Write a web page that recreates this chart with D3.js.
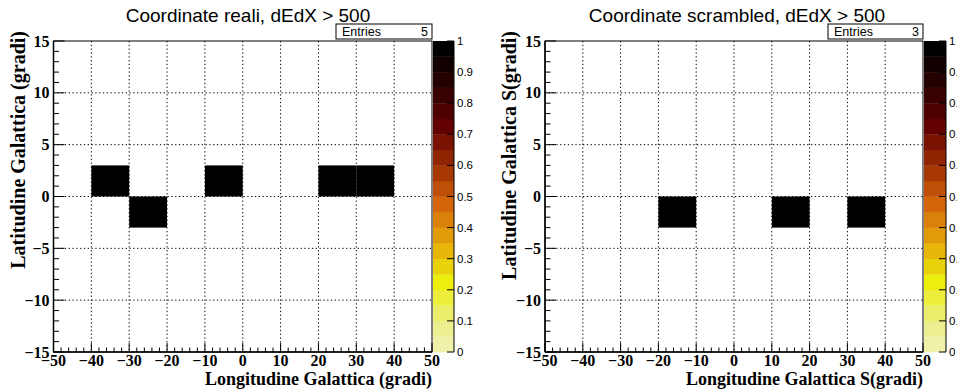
<!DOCTYPE html>
<html>
<head>
<meta charset="utf-8">
<script src="https://cdn.jsdelivr.net/npm/d3@7"></script>
<style>
  body { margin: 0; background: #fff; }
  svg { display: block; }
</style>
</head>
<body>
<svg id="chart" width="957" height="392"></svg>
<script>
// histogram contents (bin centres, deg) - every filled bin has content 1
const realiLon = [-35, -25, -5, 25, 35];
const realiLat = [1.5, -1.5, 1.5, 1.5, 1.5];
const realiVal = [1, 1, 1, 1, 1];

const scrambledLon = [-15, 15, 35];
const scrambledLat = [-1.5, -1.5, -1.5];
const scrambledVal = [1, 1, 1];

const binW = 10, binH = 3;
const xTicks = [-50, -40, -30, -20, -10, 0, 10, 20, 30, 40, 50];
const yTicks = [-15, -10, -5, 0, 5, 10, 15];
const zTicks = [0, 0.1, 0.2, 0.3, 0.4, 0.5, 0.6, 0.7, 0.8, 0.9, 1];
const nContours = 20;

// ROOT kDarkBodyRadiator, inverted
const palStops = [0, 0.125, 0.25, 0.375, 0.5, 0.625, 0.75, 0.875, 1];
const palRGB = [[0,0,0],[45,0,1],[99,0,1],[156,45,3],[212,101,9],[230,168,8],[237,238,11],[234,238,129],[242,243,199]];

const palette = d3.scaleLinear()
  .domain(palStops)
  .range(palRGB.map(c => d3.rgb(c[0], c[1], c[2])))
  .interpolate(d3.interpolateRgb);

function bandColor(i) {
  // colour of contour band i (0 = lowest)
  return palette(1 - (i + 0.99) / nContours);
}
function zColor(v) {
  let i = Math.floor(v * nContours);
  if (i >= nContours) i = nContours - 1;
  return bandColor(i);
}

const panels = [
  {
    title: "Coordinate reali, dEdX > 500",
    xTitle: "Longitudine Galattica (gradi)",
    yTitle: "Latitudine Galattica (gradi)",
    entries: 5,
    lon: realiLon, lat: realiLat, val: realiVal,
    fx0: 53.5, fx1: 432, cb0: 433, cb1: 454, titleX: 248, statX0: 336
  },
  {
    title: "Coordinate scrambled, dEdX > 500",
    xTitle: "Longitudine Galattica S(gradi)",
    yTitle: "Latitudine Galattica S(gradi)",
    entries: 3,
    lon: scrambledLon, lat: scrambledLat, val: scrambledVal,
    fx0: 545, fx1: 923, cb0: 924, cb1: 946, titleX: 737, statX0: 828
  }
];

const fy0 = 41, fy1 = 352;
const svg = d3.select("#chart");
const serif = "'Liberation Serif', 'Times New Roman', serif";
const sans = "'Liberation Sans', Arial, sans-serif";

panels.forEach(p => {
  const g = svg.append("g");

  const x = d3.scaleLinear().domain([-50, 50]).range([p.fx0, p.fx1]);
  const y = d3.scaleLinear().domain([-15, 15]).range([fy1, fy0]);
  const z = d3.scaleLinear().domain([0, 1]).range([fy1, fy0]);

  // grid
  g.append("g").selectAll("line")
    .data(xTicks.slice(1, -1))
    .join("line")
    .attr("x1", d => x(d)).attr("x2", d => x(d))
    .attr("y1", fy0).attr("y2", fy1)
    .attr("stroke", "#000").attr("stroke-width", 1)
    .attr("stroke-dasharray", "1.3,2.5");
  g.append("g").selectAll("line")
    .data(yTicks.slice(1, -1))
    .join("line")
    .attr("x1", p.fx0).attr("x2", p.fx1)
    .attr("y1", d => y(d)).attr("y2", d => y(d))
    .attr("stroke", "#000").attr("stroke-width", 1)
    .attr("stroke-dasharray", "1.3,2.5");

  // cells
  const cells = p.lon.map((d, i) => ({lon: d, lat: p.lat[i], v: p.val[i]}));
  g.append("g").selectAll("rect")
    .data(cells)
    .join("rect")
    .attr("x", d => x(d.lon - binW / 2))
    .attr("y", d => y(d.lat + binH / 2))
    .attr("width", d => x(d.lon + binW / 2) - x(d.lon - binW / 2))
    .attr("height", d => y(d.lat - binH / 2) - y(d.lat + binH / 2))
    .attr("fill", d => zColor(d.v));

  // frame
  g.append("rect")
    .attr("x", p.fx0).attr("y", fy0)
    .attr("width", p.fx1 - p.fx0).attr("height", fy1 - fy0)
    .attr("fill", "none").attr("stroke", "#000").attr("stroke-width", 1);

  // x axis ticks (pointing up into frame)
  const xMinor = d3.range(-50, 50.01, 2);
  g.append("g").selectAll("line")
    .data(xMinor)
    .join("line")
    .attr("x1", d => x(d)).attr("x2", d => x(d))
    .attr("y1", fy1)
    .attr("y2", d => fy1 - (d % 10 === 0 ? 9 : 4.5))
    .attr("stroke", "#000").attr("stroke-width", 1);
  g.append("line")
    .attr("x1", p.fx0).attr("x2", p.fx1).attr("y1", fy1).attr("y2", fy1)
    .attr("stroke", "#000").attr("stroke-width", 1.5);
  g.append("g").selectAll("text")
    .data(xTicks)
    .join("text")
    .attr("x", d => x(d))
    .attr("y", 366)
    .attr("text-anchor", "middle")
    .attr("font-family", serif).attr("font-weight", "bold").attr("font-size", 16)
    .text(d => d < 0 ? "\u2212" + Math.abs(d) : d);

  // y axis ticks (pointing right into frame)
  const yMinor = d3.range(-15, 15.01, 1);
  g.append("g").selectAll("line")
    .data(yMinor)
    .join("line")
    .attr("x1", p.fx0)
    .attr("x2", d => p.fx0 + (d % 5 === 0 ? 11 : 5.5))
    .attr("y1", d => y(d)).attr("y2", d => y(d))
    .attr("stroke", "#000").attr("stroke-width", 1);
  g.append("line")
    .attr("x1", p.fx0).attr("x2", p.fx0).attr("y1", fy0).attr("y2", fy1)
    .attr("stroke", "#000").attr("stroke-width", 1.5);
  g.append("g").selectAll("text")
    .data(yTicks)
    .join("text")
    .attr("x", p.fx0 - 4)
    .attr("y", d => y(d))
    .attr("dy", "0.35em")
    .attr("text-anchor", "end")
    .attr("font-family", serif).attr("font-weight", "bold").attr("font-size", 16)
    .text(d => d < 0 ? "\u2212" + Math.abs(d) : d);

  // axis titles
  g.append("text")
    .attr("x", p.fx1).attr("y", 385)
    .attr("text-anchor", "end")
    .attr("font-family", serif).attr("font-weight", "bold").attr("font-size", 18)
    .text(p.xTitle);
  g.append("text")
    .attr("transform", `translate(${p.fx0 - 29},${fy0 - 10}) rotate(-90)`)
    .attr("text-anchor", "end")
    .attr("font-family", serif).attr("font-weight", "bold").attr("font-size", 20)
    .text(p.yTitle);

  // title
  g.append("text")
    .attr("x", p.titleX).attr("y", 22)
    .attr("text-anchor", "middle")
    .attr("font-family", sans).attr("font-size", 19)
    .text(p.title);

  // stats box
  g.append("rect")
    .attr("x", p.statX0).attr("y", 24)
    .attr("width", p.fx1 - p.statX0).attr("height", 15)
    .attr("fill", "#fff").attr("stroke", "#000").attr("stroke-width", 1);
  g.append("text")
    .attr("x", p.statX0 + 6).attr("y", 36)
    .attr("font-family", sans).attr("font-size", 12.5)
    .text("Entries");
  g.append("text")
    .attr("x", p.fx1 - 4).attr("y", 36)
    .attr("text-anchor", "end")
    .attr("font-family", sans).attr("font-size", 12.5)
    .text(p.entries);

  // colour bar
  g.append("g").selectAll("rect")
    .data(d3.range(nContours))
    .join("rect")
    .attr("x", p.cb0)
    .attr("y", i => z((i + 1) / nContours))
    .attr("width", p.cb1 - p.cb0)
    .attr("height", i => z(i / nContours) - z((i + 1) / nContours) + 0.3)
    .attr("fill", i => bandColor(i));
  g.append("g").selectAll("line")
    .data(zTicks)
    .join("line")
    .attr("x1", p.cb1 - 7).attr("x2", p.cb1)
    .attr("y1", d => z(d)).attr("y2", d => z(d))
    .attr("stroke", "#000").attr("stroke-width", 1);
  g.append("line")
    .attr("x1", p.cb1).attr("x2", p.cb1).attr("y1", fy0).attr("y2", fy1)
    .attr("stroke", "#000").attr("stroke-width", 1);
  g.append("g").selectAll("text")
    .data(zTicks)
    .join("text")
    .attr("x", p.cb1 + 3)
    .attr("y", d => z(d))
    .attr("dy", "0.35em")
    .attr("font-family", sans).attr("font-size", 11.5)
    .text(d => d);
});
</script>
</body>
</html>
